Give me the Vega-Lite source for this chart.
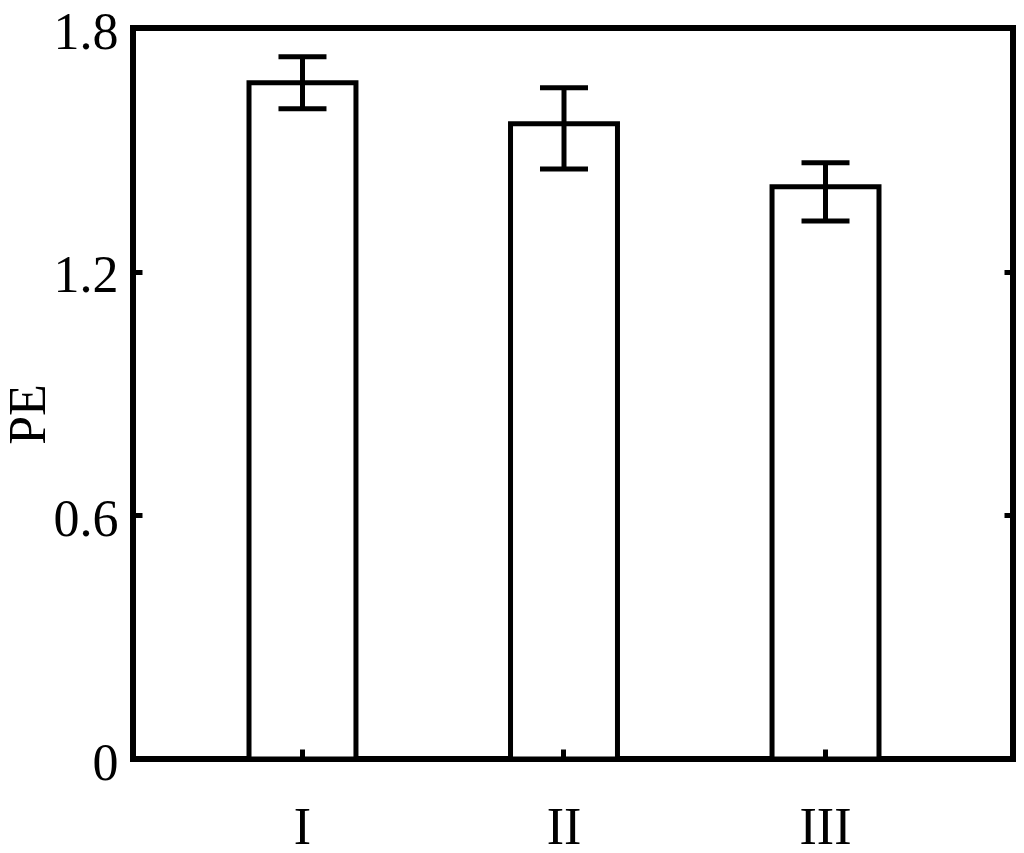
{
  "$schema": "https://vega.github.io/schema/vega-lite/v6.json",
  "width": 880,
  "height": 731,
  "autosize": {"type": "none"},
  "padding": {"left": 133, "top": 28, "right": 11, "bottom": 94},
  "background": "white",
  "config": {"view": {"stroke": "black", "strokeWidth": 6}, "font": "Liberation Serif"},
  "data": {"values": [
    {"group": "I", "pe": 1.665, "lo": 1.601, "hi": 1.729},
    {"group": "II", "pe": 1.564, "lo": 1.453, "hi": 1.653},
    {"group": "III", "pe": 1.409, "lo": 1.325, "hi": 1.468}
  ]},
  "encoding": {
    "x": {
      "field": "group", "type": "nominal", "sort": null,
      "scale": {"paddingInner": 0.591, "paddingOuter": 0.478, "align": 0.464},
      "axis": {"orient": "bottom", "title": null, "domain": false, "ticks": true, "tickSize": -10, "tickWidth": 5, "tickColor": "black", "labelFontSize": 52, "labelColor": "black", "labelPadding": 53, "labelAngle": 0, "grid": false, "zindex": 1}
    }
  },
  "layer": [
    {
      "mark": {"type": "bar", "fill": "white", "stroke": "black", "strokeWidth": 5},
      "encoding": {
        "y": {
          "field": "pe", "type": "quantitative",
          "scale": {"domain": [0, 1.8], "nice": false, "zero": true},
          "axis": {"orient": "left", "values": [0, 0.6, 1.2, 1.8], "format": ".1~f", "domain": false, "grid": false, "tickSize": -9, "tickWidth": 5, "tickColor": "black", "labelFontSize": 52, "labelColor": "black", "labelPadding": 24, "labelOffset": 4, "title": "PE", "titleFontSize": 52, "titleFontWeight": "normal", "titleColor": "black", "titleX": -105, "titleY": 386, "titleAngle": 270, "titleBaseline": "middle", "titleAlign": "center", "zindex": 1}
        }
      }
    },
    {
      "mark": {"type": "errorbar", "ticks": {"size": 48, "thickness": 5, "color": "black", "opacity": 1}, "rule": {"strokeWidth": 5, "color": "black", "opacity": 1}},
      "encoding": {
        "y": {"field": "lo", "type": "quantitative", "axis": {"orient": "right", "values": [0, 0.6, 1.2, 1.8], "labels": false, "domain": false, "grid": false, "tickSize": -9, "tickWidth": 5, "tickColor": "black", "title": null, "zindex": 1}},
        "y2": {"field": "hi"}
      }
    }
  ],
  "resolve": {"axis": {"y": "independent"}}
}
